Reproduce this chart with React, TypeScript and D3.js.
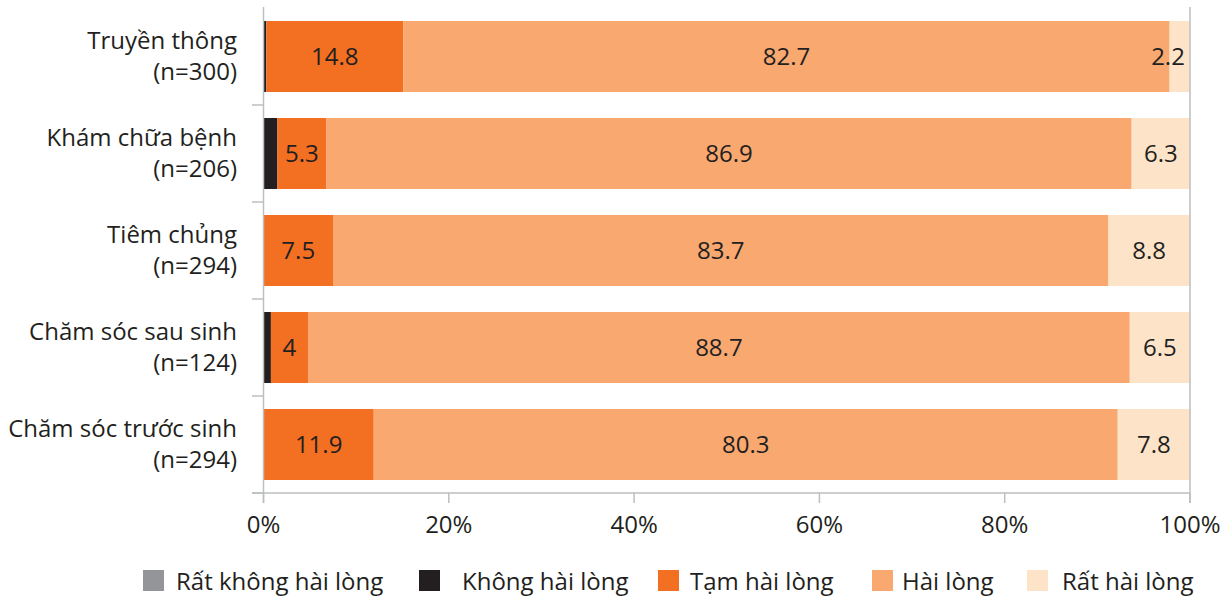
import React from "react";
import * as d3 from "d3";

const categories = [
  ["Truyền thông", "(n=300)"],
  ["Khám chữa bệnh", "(n=206)"],
  ["Tiêm chủng", "(n=294)"],
  ["Chăm sóc sau sinh", "(n=124)"],
  ["Chăm sóc trước sinh", "(n=294)"],
];
const seriesNames = ["Rất không hài lòng", "Không hài lòng", "Tạm hài lòng", "Hài lòng", "Rất hài lòng"];
const ratKhongHaiLong = [0, 0, 0, 0, 0];
const khongHaiLong = [0.3, 1.5, 0, 0.8, 0];
const tamHaiLong = [14.8, 5.3, 7.5, 4, 11.9];
const haiLong = [82.7, 86.9, 83.7, 88.7, 80.3];
const ratHaiLong = [2.2, 6.3, 8.8, 6.5, 7.8];
const xTicks = [0, 20, 40, 60, 80, 100];

const colors = ["#939598", "#231f20", "#f36f21", "#f9a870", "#fde4c9"];
const FONT = "'Open Sans', sans-serif";
const TEXT = "#231f20";
const AXIS = "#bcbec0";

export default function App() {
  const width = 1225, height = 597;
  const x = d3.scaleLinear().domain([0, 100]).range([263.5, 1190]);
  const keys = categories.map((c) => c[0]);
  const y = d3.scaleBand<string>().domain(keys).range([8, 493]).paddingInner(0.268).paddingOuter(0.134);
  const allSeries = [ratKhongHaiLong, khongHaiLong, tamHaiLong, haiLong, ratHaiLong];
  const rows = keys.map((k, i) => {
    const r: any = { cat: k };
    seriesNames.forEach((s, j) => (r[s] = allSeries[j][i]));
    return r;
  });
  const stacked = d3.stack().keys(seriesNames)(rows);
  const step = y.step();
  const boundaries = keys.map((k) => (y(k) as number) + y.bandwidth() + (step - y.bandwidth()) / 2);
  const legendX = [143, 419, 658, 872, 1027];
  const legendTextX = [176, 462, 690, 902, 1062];

  return (
    <svg width={width} height={height} style={{ position: "absolute", left: 0, top: 0 }} fontFamily={FONT}>
      {stacked.map((s, si) => (
        <g key={si} fill={colors[si]}>
          {s.map((d, i) => {
            const w = x(d[1]) - x(d[0]);
            if (w <= 0) return null;
            return <rect key={i} x={x(d[0])} y={y(keys[i])} width={w} height={y.bandwidth()} />;
          })}
        </g>
      ))}
      {stacked.map((s, si) => (
        <g key={"l" + si} fill={TEXT} fontSize={24} textAnchor="middle">
          {s.map((d, i) => {
            const v = d[1] - d[0];
            if (v < 2) return null;
            const cx = Math.min((x(d[0]) + x(d[1])) / 2, x(100) - 22);
            return (
              <text key={i} x={cx} y={(y(keys[i]) as number) + y.bandwidth() / 2 + 8.5}>
                {d3.format("")(+v.toFixed(1))}
              </text>
            );
          })}
        </g>
      ))}
      {/* axes */}
      <line x1={x(0)} x2={x(0)} y1={7} y2={503} stroke={AXIS} strokeWidth={1.5} />
      <line x1={x(100)} x2={x(100)} y1={7} y2={503} stroke={AXIS} strokeWidth={1.5} />
      <line x1={252} x2={x(100)} y1={493} y2={493} stroke={AXIS} strokeWidth={1.5} />
      {boundaries.map((b, i) => (
        <line key={i} x1={252} x2={x(0)} y1={b} y2={b} stroke={AXIS} strokeWidth={1.5} />
      ))}
      {xTicks.map((t) => (
        <g key={t}>
          <line x1={x(t)} x2={x(t)} y1={493} y2={503} stroke={AXIS} strokeWidth={1.5} />
          <text x={x(t)} y={533} textAnchor="middle" fontSize={24} fill={TEXT}>
            {t + "%"}
          </text>
        </g>
      ))}
      {categories.map((c, i) => {
        const cy = (y(c[0]) as number) + y.bandwidth() / 2;
        return (
          <text key={i} textAnchor="end" fontSize={24} fill={TEXT}>
            <tspan x={237} y={cy - 8}>{c[0]}</tspan>
            <tspan x={237} y={cy + 23}>{c[1]}</tspan>
          </text>
        );
      })}
      {seriesNames.map((s, i) => (
        <g key={s}>
          <rect x={legendX[i]} y={570} width={21} height={21} fill={colors[i]} />
          <text x={legendTextX[i]} y={590} fontSize={24} fill={TEXT}>{s}</text>
        </g>
      ))}
    </svg>
  );
}
